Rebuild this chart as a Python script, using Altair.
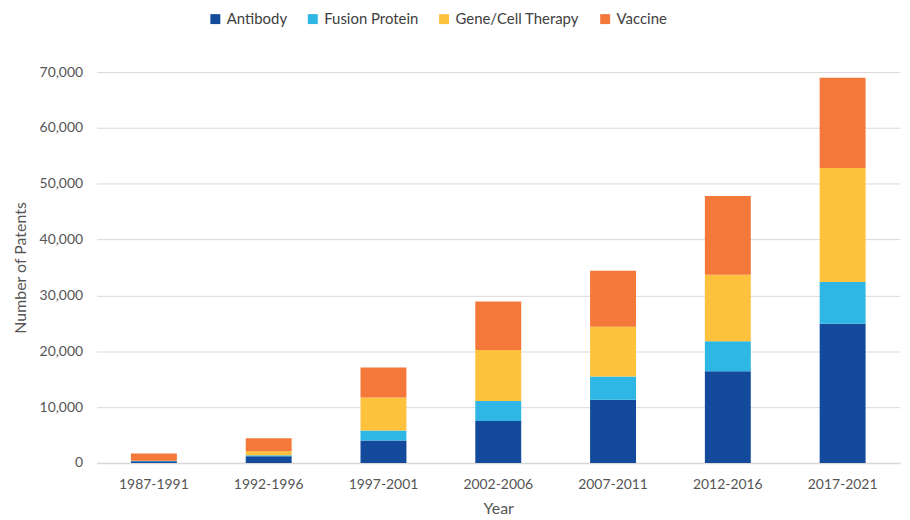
import altair as alt
import pandas as pd

periods = ["1987-1991", "1992-1996", "1997-2001", "2002-2006", "2007-2011", "2012-2016", "2017-2021"]
antibody = [300, 1200, 4000, 7500, 11300, 16400, 24900]
fusion = [50, 150, 1800, 3600, 4150, 5400, 7500]
gene = [50, 750, 5900, 9100, 8950, 11900, 20400]
vaccine = [1300, 2300, 5400, 8700, 10000, 14100, 16200]
series = ["Antibody", "Fusion Protein", "Gene/Cell Therapy", "Vaccine"]
colors = ["#134A9B", "#2EB7E5", "#FFC23C", "#F4783A"]
y_ticks = [0, 10000, 20000, 30000, 40000, 50000, 60000, 70000]

rows = []
for si, (name, vals) in enumerate(zip(series, [antibody, fusion, gene, vaccine])):
    for p, v in zip(periods, vals):
        rows.append({"Year": p, "Type": name, "Patents": v, "order": si})
df = pd.DataFrame(rows)

FONT = "Lato"
TXT = "#555555"

chart = alt.Chart(df).mark_bar().encode(
    x=alt.X(
        "Year:N",
        sort=periods,
        scale=alt.Scale(paddingInner=0.6, paddingOuter=0.3),
        axis=alt.Axis(
            title="Year", labelAngle=0, ticks=False, grid=False,
            domainColor="#d9d9d9", domainWidth=1.5,
            labelPadding=15, titlePadding=9,
            labelFontSize=14, titleFontSize=16, titleFontWeight="normal",
            labelColor=TXT, titleColor=TXT,
        ),
    ),
    y=alt.Y(
        "Patents:Q",
        scale=alt.Scale(domain=[0, 70000], nice=False),
        axis=alt.Axis(
            title="Number of Patents", values=y_ticks, format=",.0f",
            ticks=False, domain=False, gridColor="#d9d9d9", gridWidth=1,
            labelPadding=14, titlePadding=11,
            labelFontSize=14, titleFontSize=16, titleFontWeight="normal",
            labelColor=TXT, titleColor=TXT,
        ),
    ),
    color=alt.Color(
        "Type:N",
        scale=alt.Scale(domain=series, range=colors),
        legend=alt.Legend(
            title=None, orient="none", direction="horizontal",
            legendX=112, legendY=-61, padding=0,
            symbolType="square", symbolSize=100, symbolStrokeWidth=0,
            labelFontSize=15, labelColor="#404040", labelOffset=4,
            columnPadding=18,
        ),
    ),
    order=alt.Order("order:Q", sort="ascending"),
).properties(
    width=808,
    height=393,
    autosize=alt.AutoSizeParams(type="none"),
    padding={"left": 89, "top": 63, "right": 2, "bottom": 54},
).configure(font=FONT).configure_view(stroke=None)

chart.save("out.html", embed_options={"renderer": "svg", "actions": False})
